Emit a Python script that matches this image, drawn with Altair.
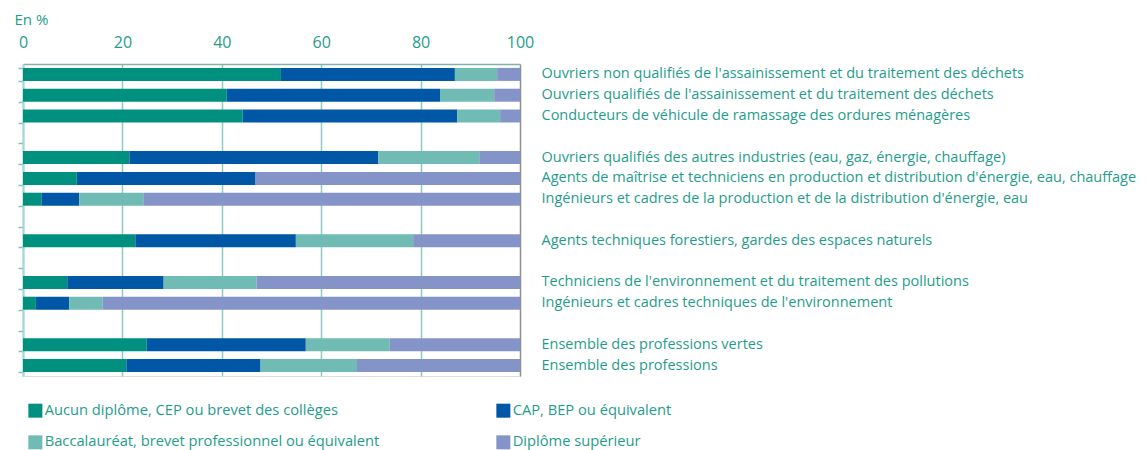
import altair as alt
import pandas as pd

categories = [
    "Ouvriers non qualifiés de l'assainissement et du traitement des déchets",
    "Ouvriers qualifiés de l'assainissement et du traitement des déchets",
    "Conducteurs de véhicule de ramassage des ordures ménagères",
    " ",
    "Ouvriers qualifiés des autres industries (eau, gaz, énergie, chauffage)",
    "Agents de maîtrise et techniciens en production et distribution d'énergie, eau, chauffage",
    "Ingénieurs et cadres de la production et de la distribution d'énergie, eau",
    "  ",
    "Agents techniques forestiers, gardes des espaces naturels",
    "   ",
    "Techniciens de l'environnement et du traitement des pollutions",
    "Ingénieurs et cadres techniques de l'environnement",
    "    ",
    "Ensemble des professions vertes",
    "Ensemble des professions",
]

series = [
    "Aucun diplôme, CEP ou brevet des collèges",
    "CAP, BEP ou équivalent",
    "Baccalauréat, brevet professionnel ou équivalent",
    "Diplôme supérieur",
]

# values per category (None = spacer row)
aucun = [51.9, 41.0, 44.2, None, 21.4, 10.8, 3.7, None, 22.6, None, 8.9, 2.6, None, 24.9, 20.8]
cap =   [35.0, 43.0, 43.2, None, 50.1, 36.0, 7.6, None, 32.3, None, 19.4, 6.7, None, 32.0, 27.0]
bac =   [8.5, 10.8, 8.6, None, 20.3, 0.0, 12.9, None, 23.6, None, 18.7, 6.7, None, 16.9, 19.4]
sup =   [4.6, 5.2, 4.0, None, 8.2, 53.2, 75.8, None, 21.5, None, 53.0, 84.0, None, 26.2, 32.8]

colors = ["#00907f", "#0057a6", "#70bbb4", "#8494c8"]
text_color = "#1f9d8b"
font = "Open Sans"

rows = []
for i, cat in enumerate(categories):
    for j, vals in enumerate([aucun, cap, bac, sup]):
        v = vals[i]
        if v is None:
            continue
        rows.append({"cat": cat, "serie": series[j], "ord": j, "val": v})
df = pd.DataFrame(rows)

# legend fills column-wise: order domain so that rows read Aucun | CAP, Bac | Diplôme
legend_order = [series[0], series[2], series[1], series[3]]
legend_colors = [colors[0], colors[2], colors[1], colors[3]]

yscale = alt.Scale(domain=categories, paddingInner=0.36, paddingOuter=0.18)
xscale = alt.Scale(domain=[0, 100], nice=False)

bars = alt.Chart(df).mark_bar(size=13).encode(
    x=alt.X(
        "val:Q",
        stack="zero",
        scale=xscale,
        axis=alt.Axis(
            orient="top",
            values=[0, 20, 40, 60, 80, 100],
            title="En %",
            titleAngle=0,
            titleAlign="left",
            titleBaseline="top",
            titleX=-9,
            titleY=-52,
            titleFont=font,
            titleFontSize=15,
            titleFontWeight="normal",
            titleColor=text_color,
            labelFont=font,
            labelFontSize=16,
            labelColor=text_color,
            labelPadding=14,
            labelFlush=False,
            ticks=False,
            domainColor="#7db5ae",
            domainWidth=1.5,
            grid=True,
            gridColor={"condition": {"test": "datum.value == 100", "value": "#8f8f8f"}, "value": "#8ccac2"},
            gridWidth=1.5,
        ),
    ),
    y=alt.Y(
        "cat:N",
        scale=yscale,
        sort=categories,
        axis=alt.Axis(
            orient="left",
            labels=False,
            title=None,
            tickBand="extent",
            tickSize=5,
            tickColor="#7cc0b8",
            tickWidth=1.5,
            domainColor="#a9d6d0",
            domainWidth=2,
            grid=False,
        ),
    ),
    color=alt.Color(
        "serie:N",
        scale=alt.Scale(domain=legend_order, range=legend_colors),
        legend=alt.Legend(
            title=None,
            orient="none",
            legendX=5,
            legendY=339,
            columns=2,
            columnPadding=116,
            rowPadding=16,
            symbolType="square",
            symbolSize=196,
            symbolStrokeWidth=0,
            symbolOpacity=1,
            labelFont=font,
            labelFontSize=14.7,
            labelColor=text_color,
            labelOffset=2,
            labelLimit=0,
        ),
    ),
    order=alt.Order("ord:Q"),
)

labels = alt.Chart(df).mark_bar(size=13, opacity=0).encode(
    x=alt.X("val:Q", stack="zero", scale=xscale),
    y=alt.Y(
        "cat:N",
        scale=yscale,
        sort=categories,
        axis=alt.Axis(
            orient="right",
            title=None,
            domain=False,
            ticks=False,
            labelPadding=21,
            labelAlign="left",
            labelFont=font,
            labelFontSize=14.5,
            labelColor=text_color,
            labelLimit=0,
        ),
    ),
    order=alt.Order("ord:Q"),
)

chart = alt.layer(bars, labels).resolve_axis(y="independent").properties(
    width=497,
    height=312,
    autosize=alt.AutoSizeParams(type="none"),
    padding={"left": 15, "top": 56, "right": 618, "bottom": 74},
).configure_view(stroke="#8f8f8f", strokeWidth=1.5).configure(background="white")

chart.save("out.html", embed_options={"renderer": "svg", "actions": False})
